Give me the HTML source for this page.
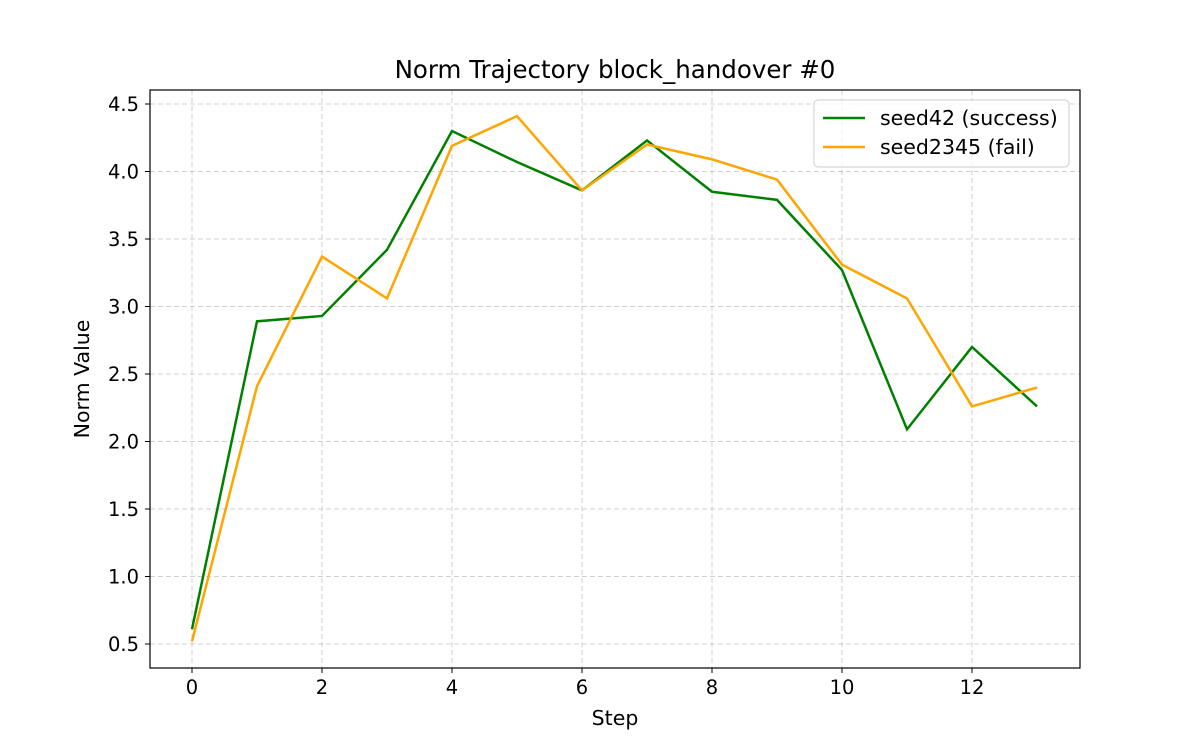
<!DOCTYPE html>
<html><head><meta charset="utf-8"><style>
body{margin:0;background:#fff;font-family:"DejaVu Sans","Liberation Sans",sans-serif;}
svg text{font-family:"DejaVu Sans","Liberation Sans",sans-serif;fill:#000}
</style></head><body>
<svg id="chart" width="1200" height="750" xmlns="http://www.w3.org/2000/svg">
<rect width="1200" height="750" fill="#fff"/>
<text x="615" y="78" text-anchor="middle" font-size="24.5">Norm Trajectory block_handover #0</text>
<g id="grid"></g><g id="ticks"></g><g id="series"></g>
<rect x="150" y="90" width="930" height="578" fill="none" stroke="#000" stroke-width="1.2"/>
<text x="615" y="725" text-anchor="middle" font-size="20.5">Step</text>
<text x="0" y="0" transform="translate(89,379) rotate(-90)" text-anchor="middle" font-size="20.5">Norm Value</text>
<g>
<rect x="814" y="100" width="255" height="67" rx="4" fill="#fff" fill-opacity="0.8" stroke="#ccc"/>
<g><line x1="823" y1="118" x2="865" y2="118" stroke="green" stroke-width="2.5"/><text x="880" y="125" font-size="20.5">seed42 (success)</text></g>
<g><line x1="823" y1="147" x2="865" y2="147" stroke="orange" stroke-width="2.5"/><text x="880" y="154" font-size="20.5">seed2345 (fail)</text></g>
</g>
</svg>
<script>
const steps=[0,1,2,3,4,5,6,7,8,9,10,11,12,13];
const seed42=[0.61,2.89,2.93,3.42,4.30,4.07,3.86,4.23,3.85,3.79,3.27,2.09,2.70,2.26];
const seed2345=[0.52,2.41,3.37,3.06,4.19,4.41,3.86,4.20,4.09,3.94,3.31,3.06,2.26,2.40];
const xTicks=[0,2,4,6,8,10,12];
const yTicks=[0.5,1.0,1.5,2.0,2.5,3.0,3.5,4.0,4.5];
const NS="http://www.w3.org/2000/svg";
const xs=v=>192+v*65;
const ys=v=>644-(v-0.5)*135;
function mk(tag,attrs,parent){const e=document.createElementNS(NS,tag);for(const k in attrs)e.setAttribute(k,attrs[k]);document.getElementById(parent).appendChild(e);return e;}
xTicks.forEach(t=>{
 const g=mk('line',{x1:xs(t),x2:xs(t),y1:90,y2:668,stroke:'#b0b0b0','stroke-dasharray':'5,3','stroke-opacity':0.6},'grid');
 
 
 mk('line',{x1:xs(t),x2:xs(t),y1:668,y2:673,stroke:'#000'},'ticks');
 const l=mk('text',{x:xs(t),y:694,'text-anchor':'middle','font-size':19.5},'ticks');l.textContent=t;
 
 
});
yTicks.forEach(t=>{
 const g=mk('line',{x1:150,x2:1080,y1:ys(t),y2:ys(t),stroke:'#b0b0b0','stroke-dasharray':'5,3','stroke-opacity':0.6},'grid');
 
 
 mk('line',{x1:145,x2:150,y1:ys(t),y2:ys(t),stroke:'#000'},'ticks');
 const l=mk('text',{x:139,y:ys(t)+7,'text-anchor':'end','font-size':19.5},'ticks');l.textContent=t.toFixed(1);
 
 
});
[[seed42,'green','seed42-line'],[seed2345,'orange','seed2345-line']].forEach(([d,c,n])=>{
 const p=mk('polyline',{points:d.map((v,i)=>xs(steps[i])+','+ys(v)).join(' '),fill:'none',stroke:c,'stroke-width':2.5},'series');
 
 
});
</script>
</body></html>
